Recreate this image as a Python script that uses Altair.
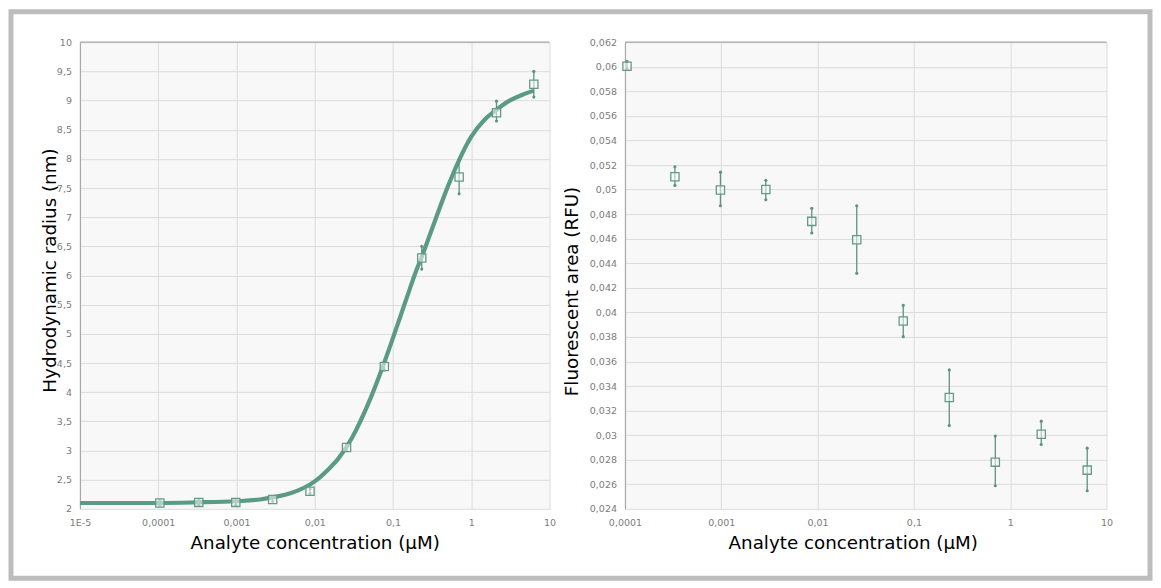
import altair as alt
import pandas as pd

# ---------------- data ----------------
conc = [0.000105, 0.00033, 0.00098, 0.0029, 0.0087, 0.0255, 0.0775, 0.233, 0.7, 2.1, 6.3]

radius = [2.10, 2.11, 2.11, 2.16, 2.30, 3.05, 4.44, 6.30, 7.69, 8.79, 9.28]
radius_lo = [2.06, 2.07, 2.07, 2.13, 2.26, 3.00, 4.38, 6.11, 7.40, 8.65, 9.06]
radius_hi = [2.14, 2.15, 2.15, 2.19, 2.34, 3.10, 4.50, 6.50, 7.99, 8.99, 9.50]

fit_conc = [1e-5, 3e-5, 1e-4, 3e-4, 1e-3, 2e-3, 3e-3, 5e-3, 0.01, 0.015, 0.02, 0.03,
            0.05, 0.077, 0.1, 0.15, 0.2, 0.23, 0.3, 0.5, 0.7, 1.0, 1.5, 2.0, 3.0, 4.5, 6.3]
fit_radius = [2.10, 2.10, 2.10, 2.11, 2.13, 2.16, 2.20, 2.27, 2.47, 2.68, 2.86, 3.22,
              3.85, 4.50, 4.93, 5.62, 6.10, 6.30, 6.72, 7.52, 7.98, 8.38, 8.68, 8.82, 8.99, 9.10, 9.17]

area = [0.06005, 0.05104, 0.04996, 0.05000, 0.04741, 0.04591, 0.03930, 0.03306, 0.02780, 0.03008, 0.02715]
area_lo = [0.05980, 0.05034, 0.04868, 0.04917, 0.04646, 0.04318, 0.03802, 0.03078, 0.02588, 0.02924, 0.02547]
area_hi = [0.06045, 0.05185, 0.05142, 0.05075, 0.04847, 0.04868, 0.04057, 0.03531, 0.02992, 0.03114, 0.02894]

x_ticks_left = [1e-5, 1e-4, 1e-3, 1e-2, 0.1, 1, 10]
x_labels_left = ["1E-5", "0,0001", "0,001", "0,01", "0,1", "1", "10"]
x_ticks_right = [1e-4, 1e-3, 1e-2, 0.1, 1, 10]
x_labels_right = ["0,0001", "0,001", "0,01", "0,1", "1", "10"]
y_ticks_left = [2, 2.5, 3, 3.5, 4, 4.5, 5, 5.5, 6, 6.5, 7, 7.5, 8, 8.5, 9, 9.5, 10]
y_ticks_right = [0.024, 0.026, 0.028, 0.030, 0.032, 0.034, 0.036, 0.038, 0.040,
                 0.042, 0.044, 0.046, 0.048, 0.050, 0.052, 0.054, 0.056, 0.058, 0.060, 0.062]
y_labels_left = [("%g" % v).replace(".", ",") for v in y_ticks_left]
y_labels_right = [("%g" % v).replace(".", ",") for v in y_ticks_right]

x_title = "Analyte concentration (µM)"
y_title_left = "Hydrodynamic radius (nm)"
y_title_right = "Fluorescent area (RFU)"

# ---------------- styles ----------------
W1, W2, H = 470, 482, 467
CURVE = "#5b9a85"
MARK = "#639b88"
ERR = "#5f9282"
FONT = "DejaVu Sans"


def label_expr(values, labels):
    expr = "'" + labels[-1] + "'"
    for i in range(len(values) - 2, -1, -1):
        mid = (values[i] * values[i + 1]) ** 0.5
        expr = "datum.value < %r ? '%s' : (%s)" % (mid, labels[i], expr)
    return expr


def lin_label_expr(values, labels):
    expr = "'" + labels[-1] + "'"
    for i in range(len(values) - 2, -1, -1):
        mid = (values[i] + values[i + 1]) / 2
        expr = "datum.value < %r ? '%s' : (%s)" % (mid, labels[i], expr)
    return expr


pts_left = pd.DataFrame({"c": conc, "v": radius, "lo": radius_lo, "hi": radius_hi})
fit_left = pd.DataFrame({"c": fit_conc, "v": fit_radius})
pts_right = pd.DataFrame({"c": conc, "v": area, "lo": area_lo, "hi": area_hi})
one = pd.DataFrame({"k": [0]})


def make_enc(x_ticks, x_labels, y_ticks, y_labels, xdom, ydom, y_title, y_extent, title_y, title_x=None):
    xa = dict(values=x_ticks, labelExpr=label_expr(x_ticks, x_labels), title=x_title,
              domain=False, ticks=False, tickSize=0, labelPadding=9, minExtent=26, maxExtent=26,
              titlePadding=0, labelFlush=False, labelOverlap=False)
    if title_x is not None:
        xa["titleX"] = title_x
    x_axis = alt.Axis(**xa)
    y_axis = alt.Axis(values=y_ticks, labelExpr=lin_label_expr(y_ticks, y_labels),
                      title=y_title, ticks=False, tickSize=0, labelPadding=8.5,
                      minExtent=y_extent, maxExtent=y_extent, titlePadding=0,
                      domain=True, domainColor="#a8a8a8", domainWidth=1.2,
                      labelOverlap=False, labelFlush=False, titleY=title_y)
    xs = alt.Scale(type="log", domain=xdom)
    ys = alt.Scale(domain=ydom, nice=False, zero=False)

    def X():
        return alt.X("c:Q", scale=xs, axis=x_axis, title=x_title)

    def Y(field):
        return alt.Y(field + ":Q", scale=ys, axis=y_axis, title=y_title)

    return X, Y


def points_layers(df, X, Y):
    base = alt.Chart(df)
    err = base.mark_rule(color=ERR, strokeWidth=1.3).encode(x=X(), y=Y("lo"), y2=alt.Y2("hi:Q"))
    cap_lo = base.mark_circle(color=ERR, size=10, opacity=1).encode(x=X(), y=Y("lo"))
    cap_hi = base.mark_circle(color=ERR, size=10, opacity=1).encode(x=X(), y=Y("hi"))
    sq = base.mark_point(shape="square", size=68, stroke=MARK, strokeWidth=1.3,
                         fill="#f9f9f9", fillOpacity=0.55, opacity=1).encode(x=X(), y=Y("v"))
    return [err, cap_lo, cap_hi, sq]


def top_rule(W):
    return alt.Chart(one).mark_rule(color="#a8a8a8", strokeWidth=1.2).encode(
        x=alt.value(0), x2=alt.value(W), y=alt.value(0))


# ---- left panel ----
XL, YL = make_enc(x_ticks_left, x_labels_left, y_ticks_left, y_labels_left, [1e-5, 10], [2, 10],
                  y_title_left, 20, 228)
curve = alt.Chart(fit_left).mark_line(color=CURVE, strokeWidth=4.2, interpolate="monotone").encode(
    x=XL(), y=YL("v"))

# decorative outer frame (page border)
frame = alt.Chart(one).mark_rect(fill="transparent", stroke="#bdbdbd", strokeWidth=5).encode(
    x=alt.value(-69), x2=alt.value(1071), y=alt.value(-30.5), y2=alt.value(536.5))

left = alt.layer(curve, *points_layers(pts_left, XL, YL), top_rule(W1), frame).properties(width=W1, height=H)

# ---- right panel ----
XR, YR = make_enc(x_ticks_right, x_labels_right, y_ticks_right, y_labels_right, [1e-4, 10], [0.024, 0.062],
                  y_title_right, 43.5, 249, title_x=228)
right = alt.layer(*points_layers(pts_right, XR, YR), top_rule(W2)).properties(width=W2, height=H)

chart = alt.hconcat(left, right, spacing=75.5, bounds="flush").resolve_scale(x="independent", y="independent").properties(
    padding=0, background="white"
).configure_view(fill="#f8f8f8", stroke="transparent").configure_axis(
    labelFont=FONT, labelFontSize=9.5, labelColor="#7b7b7b",
    titleFont=FONT, titleFontSize=18.3, titleColor="#000000", titleFontWeight="normal",
    gridColor="#dcdcdc", gridWidth=1,
)

chart.save("out.html", embed_options={"renderer": "svg", "actions": False})
